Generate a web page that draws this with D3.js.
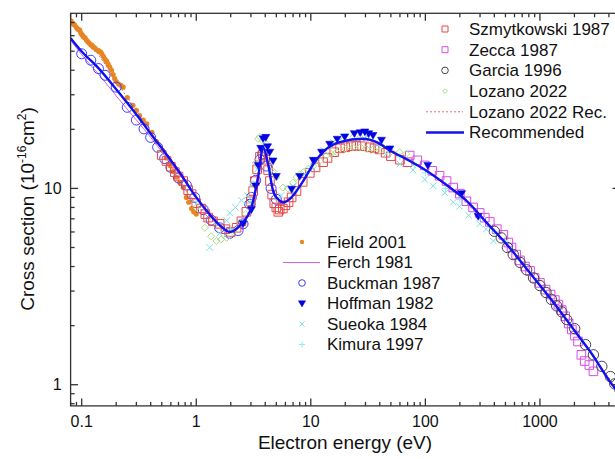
<!DOCTYPE html>
<html><head><meta charset="utf-8">
<script src="https://cdn.jsdelivr.net/npm/d3@7"></script>
<style>body{margin:0;background:#fff}svg{display:block}text{font-family:"Liberation Sans",Arial,sans-serif;fill:#111}</style>
</head><body><svg id="c" width="615" height="459"></svg>
<script>
// ---------- data (energy in eV, cross section in 1e-16 cm^2) ----------
const recE = [0.08,0.1,0.14,0.2,0.3,0.4,0.55,0.72,1.0,1.3,1.6,1.96,2.48,3.03,3.47,3.83,4.24,4.69,5.36,5.73,6.55,8.57,10.8,13.7,17.9,28.6,37.5,49,70,96,164,229,350,512,800,1222,2000,2734,4520,5000];
const recV = [58.2,49.8,41.0,32.0,23.8,19.0,14.9,12.0,9.0,7.4,6.5,6.0,6.6,8.0,11.4,16.2,13.3,9.7,8.65,8.48,8.83,10.9,13.6,15.9,17.2,17.9,17.2,15.6,14.0,12.6,10.1,8.65,6.6,5.2,3.77,2.77,1.89,1.48,0.96,0.90];

const lozRecE = [0.08,0.1,0.14,0.2,0.3,0.4,0.5,0.7,1.0,1.5,2.0,2.5,3.0,3.5,3.8,4.2,4.7,5.3,6,8,10,15,20,30,40,50,100,200,500,1000,2000,5000];
const lozRecV = [70,61,48,35,25,19.5,15.8,11.2,8.3,6.6,6.0,6.6,8.2,12,15.5,13,9.5,8.4,8.5,10.3,12.8,16.2,17.2,17.5,16.8,15.5,12.4,9.0,5.2,3.2,1.9,0.9];

const ferchE = [0.08,0.1,0.15,0.2,0.3,0.4,0.5,0.7,1.0,1.5,2.0,2.5,3.0,3.5,3.8,4.2,4.7,5.0];
const ferchV = [57,48,36.5,29.6,22.3,18.2,15.4,12.0,9.1,6.8,6.0,6.5,8.1,12.3,15.4,13.3,9.8,9.0];

const fieldE = [0.079,0.081,0.083,0.085,0.087,0.09,0.092,0.094,0.096,0.098,0.1,0.102,0.104,0.107,0.11,0.113,0.116,0.12,0.123,0.126,0.13,0.134,0.138,0.142,0.146,0.15,0.155,0.16,0.165,0.17,0.176,0.182,0.188,0.194,0.2,0.21,0.22,0.23,0.25,0.28,0.3,0.32,0.345,0.37,0.41,0.45,0.51,0.55,0.59,0.63,0.67,0.72,0.77,0.82,0.86,0.91,0.95,1.0];
const fieldV = [72,71,69.5,68.5,68,66,65,64.5,64,62,61,60,59,58.5,57,56,55,54,53.5,52.6,52,51,50.5,50,49.5,48.5,47,45.5,44.5,43,41.5,40,38,36.3,35,34,33.5,32.8,29,26.5,25,23.5,22.3,21.3,19.3,17.3,15.6,14.3,13.1,12.2,11.4,10.7,10.1,9.0,8.5,7.9,7.6,7.4];

const buckE = [0.1,0.12,0.14,0.16,0.2,0.25,0.3,0.35,0.4,0.46,0.53,0.6,0.7,0.82,0.97,1.15,1.35,1.6,1.96,2.32,2.56,2.93,3.03,3.3,3.6,3.8,4.1,4.5,5.0];
const buckV = [48.5,45,40.8,37.7,32.8,25.9,22.3,20.1,18.2,16.2,14.2,12.8,11.3,10.4,9.0,7.8,6.9,6.3,5.9,6.1,6.6,8.3,9.0,11.0,14.0,15.0,13.0,10.0,8.8];

const hoffE = [2.56,3.03,3.3,3.47,3.65,3.83,4.05,4.2,4.38,4.68,5.0,6.8,8.0,10.5,12.4,14.6,17,19.8,24,27,29.6,32,34.9,41.4,49,105,207,289];
const hoffV = [6.6,7.8,10.3,13.1,16.0,17.9,18.2,16.3,15.3,13.8,11.5,9.9,11.5,13.9,15.3,16.8,17.8,18.3,19.0,19.2,19.4,19.0,18.6,17.6,15.9,13.1,9.4,7.2];

const sueE = [1.31,1.6,1.84,1.96,2.2,2.48,2.8,3.1,3.4,3.8,4.5,5.5,7,8.9,11,13,15.6,19.1,23.4,27,31,38,45.6,60,78,99,117,148,175,199,238,298,340,392];
const sueV = [5.0,5.9,6.85,7.5,8.0,8.7,9.2,10.5,12.5,15.6,12.0,9.2,10.2,11.8,13.9,15.6,17.2,18.3,19.0,18.9,18.5,16.8,15.0,13.3,12.4,11.1,10.3,9.5,8.5,8.1,7.3,6.6,6.2,5.4];

const kimE = [1.0,1.5,2.0,3.0,3.8,5.0,7,10,15,20,30,40,60,80,100,150,200,300,400,500];
const kimV = [8.6,6.6,6.2,8.4,15.4,8.8,9.6,12.7,16.5,17.6,17.9,17.0,14.5,13.1,12.0,10.0,8.8,7.1,6.0,5.4];

const szmE = [0.5,0.55,0.6,0.65,0.7,0.77,0.85,0.91,1.0,1.1,1.2,1.27,1.4,1.6,1.8,2.0,2.25,2.48,2.74,3.0,3.14,3.24,3.4,3.6,3.8,4.0,4.24,4.4,4.6,4.8,5.0,5.2,5.35,5.7,6.0,6.4,6.8,7.5,8.5,9.8,11,12.8,14,16,18,20,22.5,25,28,32.6,36,40,45,50,60,70];
const szmV = [14.8,13.8,12.9,12.1,11.5,10.9,9.8,9.35,8.4,7.9,7.4,7.1,6.8,6.6,6.2,6.0,6.3,6.8,7.6,8.6,9.7,10.9,12.5,14.5,14.8,14.0,12.4,10.9,9.3,8.4,8.0,7.6,7.8,7.9,8.2,8.5,9.0,9.7,10.8,12.0,12.8,13.6,14.3,15.3,16.0,16.2,16.4,16.5,16.4,16.2,16.0,15.8,15.2,14.6,14.0,13.6];

const zecE = [73,85,98.6,115,133,153,175,200,228,261,298,330,365,420,480,530,565,620,670,740,820,900,1000,1120,1240,1350,1450,1550,1660,1780,1900,2020,2150,2300,2460,2700,2930];
const zecV = [14.7,13.9,13.1,12.3,11.6,10.9,10.1,9.4,8.6,8.0,7.5,7.1,6.75,6.2,5.8,5.3,5.0,4.6,4.3,4.0,3.8,3.5,3.3,3.05,2.88,2.7,2.56,2.4,2.23,2.05,1.91,1.78,1.66,1.42,1.32,1.26,1.17];

const garE = [400,460,520,585,670,765,880,1000,1130,1260,1400,1550,1710,2010,2500,2930,3470,4120,4500,5000];
const garV = [6.05,5.6,5.0,4.6,4.2,3.85,3.5,3.2,2.95,2.72,2.52,2.35,2.15,1.93,1.6,1.42,1.24,1.10,1.01,0.94];

const lozE = [1.0,1.19,1.35,1.5,1.65,1.84,2.1,2.4,2.7,2.93,3.15,3.3,3.47,3.6,3.8,4.1,4.4,4.7,5.0,5.7,6.3,7.0,7.5,8.0,8.6,9.5,10.5,12,13.7,15,16.8,20,23.4,27,30.6,35,40,50,59.6,68];
const lozV = [8.0,6.3,5.7,5.4,5.5,5.6,6.0,6.7,7.4,8.3,10.5,13.5,17.9,18.3,17.5,16.8,14.0,12.2,11.4,10.1,10.0,10.7,11.4,11.8,12.1,12.6,13.0,13.8,14.7,15.0,15.3,15.9,16.2,16.2,15.9,15.8,15.6,15.4,15.3,15.0];

const xTickLabels = ["0.1","1","10","100","1000"];
const yTickLabels = ["1","10"];
const topLegend = ["Szmytkowski 1987","Zecca 1987","Garcia 1996","Lozano 2022","Lozano 2022 Rec.","Recommended"];
const botLegend = ["Field 2001","Ferch 1981","Buckman 1987","Hoffman 1982","Sueoka 1984","Kimura 1997"];

// ---------- layout ----------
const svg = d3.select("#c");
const L=70.6, T=13.3, R=620, B=405.9;
const x = d3.scaleLog().domain([0.08,5000]).range([L,R]);
const y = d3.scaleLog().domain([0.78,78]).range([B,T]);
const zip = (a,b)=>a.map((e,i)=>[e,b[i]]);

const C = {
  rec:"#1010f2", lozRec:"#e46a6a", ferch:"#cc66dd", field:"#e8871f", buck:"#3c3cff",
  hoff:"#0000e0", sue:"#80dde6", kim:"#8eeeee", szm:"#e54848", zec:"#d64ce6", gar:"#454545", loz:"#a3e086"
};

// marker path generators (centered at 0,0)
const P = {
  square: s=>`M${-s},${-s}H${s}V${s}H${-s}Z`,
  circle: r=>`M${-r},0A${r},${r} 0 1,0 ${r},0A${r},${r} 0 1,0 ${-r},0Z`,
  tri: s=>`M${-s},${-s*0.75}H${s}L0,${s*0.95}Z`,
  diamond: s=>`M0,${-s}L${s},0L0,${s}L${-s},0Z`,
  times: s=>`M${-s},${-s}L${s},${s}M${-s},${s}L${s},${-s}`,
  plus: s=>`M${-s},0H${s}M0,${-s}V${s}`
};

svg.append("clipPath").attr("id","clip").append("rect").attr("x",L).attr("y",T).attr("width",R-L).attr("height",B-T);
const plot = svg.append("g").attr("clip-path","url(#clip)");

function markers(E,V,path,stroke,fill,sw){
  plot.append("g").selectAll("path").data(zip(E,V)).join("path")
    .attr("transform",d=>`translate(${x(d[0])},${y(d[1])})`)
    .attr("d",path).attr("fill",fill).attr("stroke",stroke).attr("stroke-width",sw);
}
const line = d3.line().x(d=>x(d[0])).y(d=>y(d[1])).curve(d3.curveMonotoneX);
function curve(E,V,color,w,dash){
  const p = plot.append("path").datum(zip(E,V)).attr("d",line).attr("fill","none").attr("stroke",color).attr("stroke-width",w);
  if(dash) p.attr("stroke-dasharray",dash);
}

// draw series
markers(fieldE,fieldV,P.circle(2.6),"none",C.field,0);
curve(ferchE,ferchV,C.ferch,1);
markers(buckE,buckV,P.circle(5),C.buck,"none",1);
markers(szmE,szmV,P.square(4.3),C.szm,"none",1);
markers(zecE,zecV,P.square(4.3),C.zec,"none",1);
markers(garE,garV,P.circle(5.2),C.gar,"none",1);
markers(lozE,lozV,P.diamond(3.5),C.loz,"none",1);
markers(sueE,sueV,P.times(3.2),C.sue,"none",1);
markers(kimE,kimV,P.plus(3.6),C.kim,"none",1);
markers(hoffE,hoffV,P.tri(4),C.hoff,C.hoff,0.5);
curve(lozRecE,lozRecV,C.lozRec,1,"2,2");
curve(recE,recV,C.rec,2.4);

// ---------- axes / frame ----------
const ax = svg.append("g").attr("stroke","#333").attr("stroke-width",1.3);
ax.append("rect").attr("x",L).attr("y",T).attr("width",R-L).attr("height",B-T).attr("fill","none");
const xMajor = xTickLabels.map(Number);
const xMinor = [];
[0.01,0.1,1,10,100,1000].forEach(d=>{for(let k=2;k<=9;k++){const v=d*k; if(v>=0.08&&v<=5000&&!xMajor.includes(v)) xMinor.push(v);}});
const yMajor = yTickLabels.map(Number);
const yMinor = [];
[0.1,1,10].forEach(d=>{for(let k=2;k<=9;k++){const v=d*k; if(v>=0.78&&v<=78) yMinor.push(v);}});
const maj=7.5, mnr=4;
xMajor.forEach(v=>{ax.append("line").attr("x1",x(v)).attr("x2",x(v)).attr("y1",B).attr("y2",B-maj);
  ax.append("line").attr("x1",x(v)).attr("x2",x(v)).attr("y1",T).attr("y2",T+maj);});
xMinor.forEach(v=>{ax.append("line").attr("x1",x(v)).attr("x2",x(v)).attr("y1",B).attr("y2",B-mnr);
  ax.append("line").attr("x1",x(v)).attr("x2",x(v)).attr("y1",T).attr("y2",T+mnr);});
yMajor.forEach(v=>{ax.append("line").attr("y1",y(v)).attr("y2",y(v)).attr("x1",L).attr("x2",L+maj);
  ax.append("line").attr("y1",y(v)).attr("y2",y(v)).attr("x1",R).attr("x2",R-maj);});
yMinor.forEach(v=>{ax.append("line").attr("y1",y(v)).attr("y2",y(v)).attr("x1",L).attr("x2",L+mnr);
  ax.append("line").attr("y1",y(v)).attr("y2",y(v)).attr("x1",R).attr("x2",R-mnr);});

svg.append("g").selectAll("text").data(xTickLabels).join("text")
  .attr("x",d=>x(+d)).attr("y",B+21).attr("text-anchor","middle").attr("font-size",16).text(d=>d);
svg.append("g").selectAll("text").data(yTickLabels).join("text")
  .attr("x",L-9).attr("y",d=>y(+d)).attr("dy","0.35em").attr("text-anchor","end").attr("font-size",16).text(d=>d);

svg.append("text").attr("x",345).attr("y",449).attr("text-anchor","middle").attr("font-size",19).text("Electron energy (eV)");
const yl = svg.append("text").attr("transform","translate(34,209) rotate(-90)").attr("text-anchor","middle").attr("font-size",19);
yl.append("tspan").text("Cross section (10");
yl.append("tspan").attr("font-size",12).attr("dy",-8).text("-16");
yl.append("tspan").attr("dy",8).text("cm");
yl.append("tspan").attr("font-size",12).attr("dy",-8).text("2");
yl.append("tspan").attr("dy",8).text(")");

// ---------- legends (legend symbols are drawn smaller than plot symbols) ----------
const tl = svg.append("g");
const tlY = i=>29+i*20.7, tlSym=445, tlTxt=469;
const topSym = [
  g=>g.append("path").attr("d",P.square(3)).attr("fill","none").attr("stroke",C.szm),
  g=>g.append("path").attr("d",P.square(3)).attr("fill","none").attr("stroke",C.zec),
  g=>g.append("path").attr("d",P.circle(3.3)).attr("fill","none").attr("stroke",C.gar),
  g=>g.append("path").attr("d",P.diamond(2.3)).attr("fill","none").attr("stroke",C.loz),
  g=>g.append("line").attr("x1",-19).attr("x2",18).attr("stroke",C.lozRec).attr("stroke-dasharray","2,2"),
  g=>g.append("line").attr("x1",-19).attr("x2",19).attr("stroke",C.rec).attr("stroke-width",2.4)
];
topLegend.forEach((t,i)=>{
  const g = tl.append("g").attr("transform",`translate(${tlSym},${tlY(i)})`);
  topSym[i](g);
  tl.append("text").attr("x",tlTxt).attr("y",tlY(i)).attr("dy","0.35em").attr("font-size",17).text(t);
});
const bl = svg.append("g");
const blY = i=>242+i*20.5, blSym=302, blTxt=327;
const botSym = [
  g=>g.append("path").attr("d",P.circle(2.2)).attr("fill",C.field),
  g=>g.append("line").attr("x1",-19).attr("x2",18).attr("stroke",C.ferch),
  g=>g.append("path").attr("d",P.circle(3.3)).attr("fill","none").attr("stroke",C.buck),
  g=>g.append("path").attr("d",P.tri(3.6)).attr("fill",C.hoff).attr("stroke",C.hoff).attr("stroke-width",0.5),
  g=>g.append("path").attr("d",P.times(2.5)).attr("fill","none").attr("stroke",C.sue),
  g=>g.append("path").attr("d",P.plus(3)).attr("fill","none").attr("stroke",C.kim)
];
botLegend.forEach((t,i)=>{
  const g = bl.append("g").attr("transform",`translate(${blSym},${blY(i)})`);
  botSym[i](g);
  bl.append("text").attr("x",blTxt).attr("y",blY(i)).attr("dy","0.35em").attr("font-size",17).text(t);
});
</script></body></html>
